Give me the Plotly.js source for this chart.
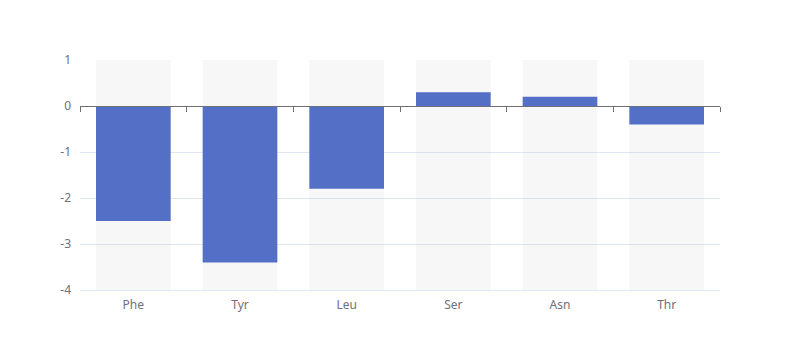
<!DOCTYPE html>
<html>
<head>
<meta charset="utf-8">
<script src="https://cdn.plot.ly/plotly-3.0.1.min.js"></script>
<style>html,body{margin:0;padding:0;background:#fff;}#chart{width:800px;height:360px;}</style>
</head>
<body>
<div id="chart"></div>
<script>
const categories = ["Phe", "Tyr", "Leu", "Ser", "Asn", "Thr"];
const values = [-2.5, -3.4, -1.8, 0.3, 0.2, -0.4];
const yMin = -4;
const yMax = 1;
const yTicks = [-4, -3, -2, -1, 0, 1];

const bgTrace = {
  type: "bar",
  x: categories,
  y: categories.map(() => yMax - yMin),
  base: categories.map(() => yMin),
  width: 0.7,
  marker: { color: "rgba(180,180,180,0.1)" },
  hoverinfo: "skip",
  xaxis: "x",
  yaxis: "y",
  showlegend: false
};

const mainTrace = {
  type: "bar",
  x: categories,
  y: values,
  width: 0.7,
  marker: { color: "#5470c6" },
  xaxis: "x2",
  yaxis: "y",
  showlegend: false
};

const fontFamily = "'Microsoft YaHei', 'Noto Sans', sans-serif";

const layout = {
  width: 800,
  height: 360,
  margin: { l: 80, r: 80, t: 60, b: 70 },
  paper_bgcolor: "#ffffff",
  plot_bgcolor: "#ffffff",
  barmode: "overlay",
  font: { family: fontFamily, size: 12, color: "#6e7079" },
  xaxis: {
    type: "category",
    categoryarray: categories,
    range: [-0.5, categories.length - 0.5],
    showgrid: false,
    zeroline: false,
    showline: true,
    linecolor: "#e0e6f1",
    ticks: "",
    ticklabelstandoff: 4,
    tickfont: { family: fontFamily, size: 12, color: "#6e7079" },
    fixedrange: true
  },
  xaxis2: {
    type: "category",
    categoryarray: categories,
    range: [-0.5, categories.length - 0.5],
    overlaying: "x",
    anchor: "free",
    position: (0 - yMin) / (yMax - yMin),
    side: "bottom",
    showgrid: false,
    zeroline: false,
    showline: true,
    linecolor: "#6e7079",
    linewidth: 1,
    ticks: "outside",
    tickson: "boundaries",
    ticklen: 5,
    tickcolor: "#6e7079",
    tickwidth: 1,
    showticklabels: false,
    fixedrange: true
  },
  yaxis: {
    range: [yMin, yMax],
    tickvals: yTicks,
    ticktext: yTicks.map(String),
    showgrid: true,
    gridcolor: "#e0e6f1",
    gridwidth: 1,
    zeroline: false,
    showline: false,
    ticks: "",
    ticklabelstandoff: 8,
    tickfont: { family: fontFamily, size: 12, color: "#6e7079" },
    fixedrange: true
  }
};

Plotly.newPlot("chart", [bgTrace, mainTrace], layout, { displayModeBar: false, staticPlot: true });
</script>
</body>
</html>
